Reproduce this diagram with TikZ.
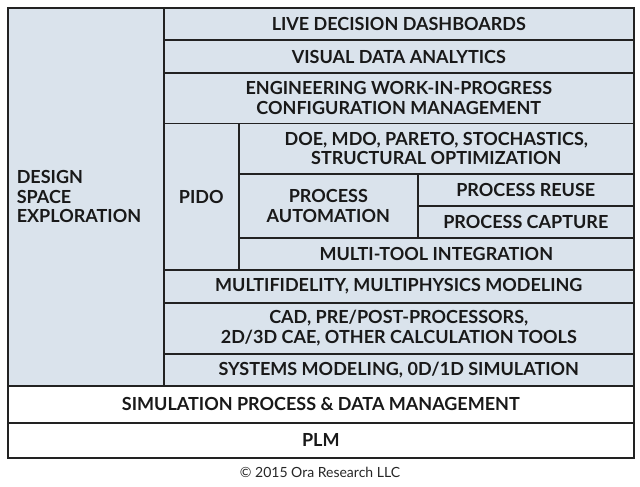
\documentclass[tikz,border=0pt]{standalone}
\usepackage{fontspec}
\setmainfont{Lato}

\definecolor{cellblue}{HTML}{DAE3EC}
\definecolor{rule}{HTML}{222222}

\begin{document}
\begin{tikzpicture}[x = 1pt, y = -1pt,
		cell/.style = {draw = rule, line width = 1.6pt, fill = cellblue, anchor = north west,
			inner sep = 2pt, align = center, text = black!90,
			font = \bfseries\fontsize{18}{19.5}\selectfont},
		base/.style = {cell, fill = white}]
				%	page
				\useasboundingbox (0, 0) rectangle (640, 487);
				
				%	column and row setup
				\def\xl{7}
				\def\xa{163}
				\def\xb{238}
				\def\xc{417}
				\def\xr{633}
				
				%	left column
				\node[cell, minimum width = 156pt, minimum height = 378pt, text width = 138pt, align = left] (dse) at (\xl, 7) {DESIGN\\SPACE\\EXPLORATION};
				
				%	upper layers
				\node[cell, minimum width = 470pt, minimum height = 32.5pt] (live) at (\xa, 7) {LIVE DECISION DASHBOARDS};
				\node[cell, minimum width = 470pt, minimum height = 32.5pt] (visual) at (\xa, 39.5) {VISUAL DATA ANALYTICS};
				\node[cell, minimum width = 470pt, minimum height = 50.5pt] (wip) at (\xa, 72) {ENGINEERING WORK-IN-PROGRESS\\CONFIGURATION MANAGEMENT};
				
				%	pido block
				\node[cell, minimum width = 75pt, minimum height = 146.5pt] (pido) at (\xa, 122.5) {PIDO};
				\node[cell, minimum width = 395pt, minimum height = 50.5pt] (doe) at (\xb, 122.5) {DOE, MDO, PARETO, STOCHASTICS,\\STRUCTURAL OPTIMIZATION};
				\node[cell, minimum width = 179pt, minimum height = 64pt] (auto) at (\xb, 173) {PROCESS\\AUTOMATION};
				\node[cell, minimum width = 216pt, minimum height = 32pt] (reuse) at (\xc, 173) {PROCESS REUSE};
				\node[cell, minimum width = 216pt, minimum height = 32pt] (capture) at (\xc, 205) {PROCESS CAPTURE};
				\node[cell, minimum width = 395pt, minimum height = 32pt] (tools) at (\xb, 237) {MULTI-TOOL INTEGRATION};
				
				%	lower layers
				\node[cell, minimum width = 470pt, minimum height = 33pt] (fidelity) at (\xa, 269) {MULTIFIDELITY, MULTIPHYSICS MODELING};
				\node[cell, minimum width = 470pt, minimum height = 51pt] (cad) at (\xa, 302) {CAD, PRE/POST-PROCESSORS,\\2D/3D CAE, OTHER CALCULATION TOOLS};
				\node[cell, minimum width = 470pt, minimum height = 32pt] (sysmod) at (\xa, 353) {SYSTEMS MODELING, 0D/1D SIMULATION};
				
				%	foundation
				\node[base, minimum width = 626pt, minimum height = 37pt] (spdm) at (\xl, 385) {SIMULATION PROCESS \& DATA MANAGEMENT};
				\node[base, minimum width = 626pt, minimum height = 35pt] (plm) at (\xl, 422) {PLM};
				
				%	credit
				\node[font = \fontsize{14}{16}\selectfont, text = black!85] (credit) at (320, 472) {© 2015 Ora Research LLC};
				\end{tikzpicture}
\end{document}
